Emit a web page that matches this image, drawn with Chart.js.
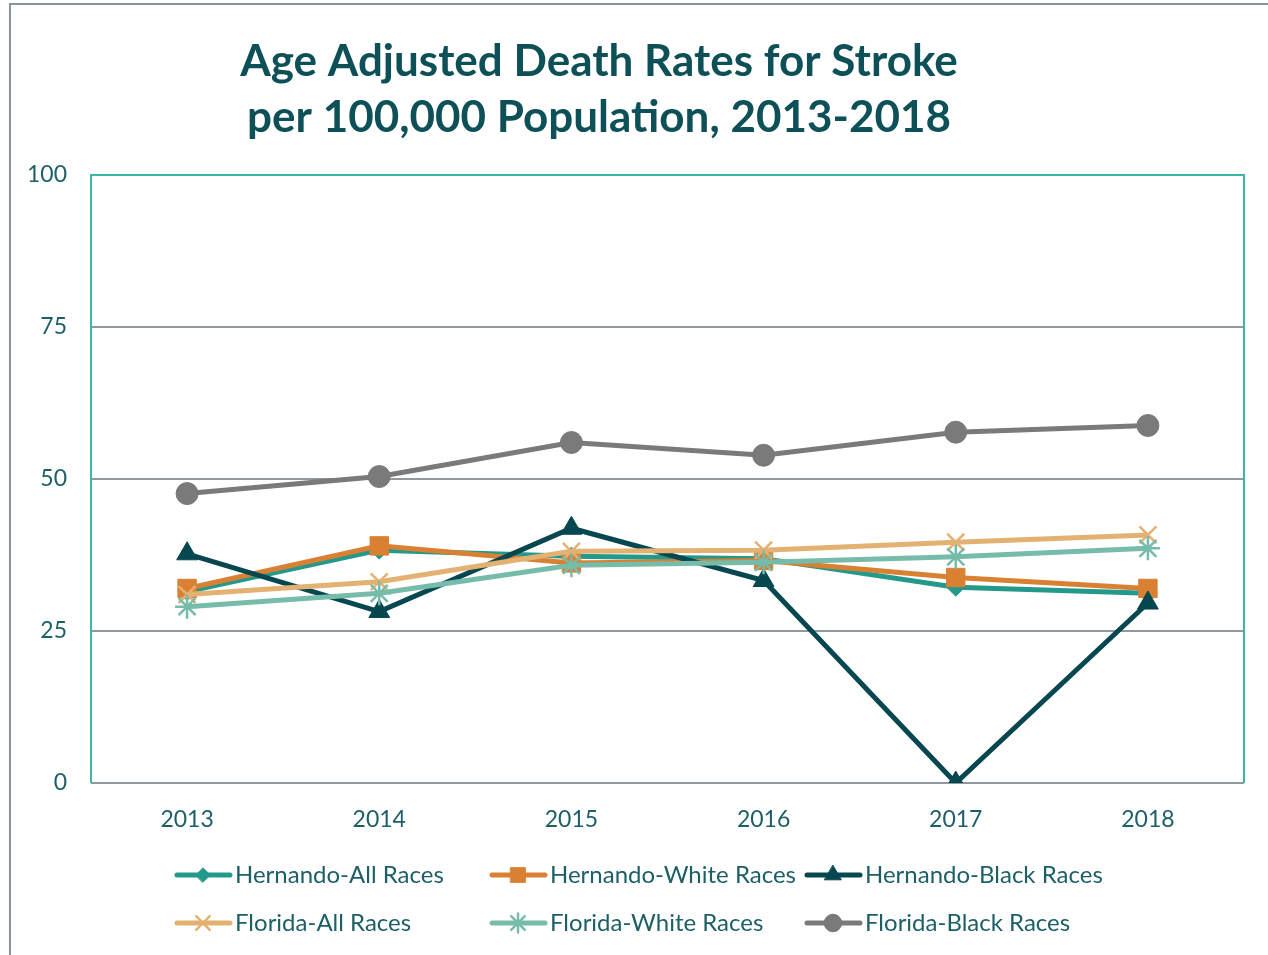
<!DOCTYPE html>
<html>
<head>
<meta charset="utf-8">
<title>Stroke death rates</title>
<script src="https://cdn.jsdelivr.net/npm/chart.js@4.4.1/dist/chart.umd.min.js"></script>
<style>
  body { margin: 0; background: #fff; }
  #frame { position: absolute; left: 9px; top: 3px; width: 1300px; height: 1000px;
           border-top: 2px solid #8a9599; border-left: 2px solid #8a9599; }
  #chart { position: absolute; left: 0; top: 0; }
</style>
</head>
<body>
<div id="frame"></div>
<canvas id="chart" width="1268" height="955"></canvas>
<script>
//データ####################################################

var years = ['2013', '2014', '2015', '2016', '2017', '2018'];
var seriesNames = ['Hernando-All Races', 'Hernando-White Races', 'Hernando-Black Races',
                   'Florida-All Races', 'Florida-White Races', 'Florida-Black Races'];
var hernandoAll   = [31.5, 38.3, 37.3, 36.9, 32.2, 31.2];
var hernandoWhite = [32.0, 39.0, 36.2, 36.6, 33.8, 32.0];
var hernandoBlack = [37.7, 28.2, 41.9, 33.3, 0, 29.6];
var floridaAll    = [31.0, 33.1, 38.1, 38.3, 39.6, 40.8];
var floridaWhite  = [29.0, 31.2, 35.8, 36.3, 37.2, 38.6];
var floridaBlack  = [47.6, 50.4, 56.0, 53.9, 57.7, 58.8];
var yTicks = [0, 25, 50, 75, 100];
var titleLines = ['Age Adjusted Death Rates for Stroke', 'per 100,000 Population, 2013-2018'];

var textColor = '#1d5f66';
var fontName = 'Lato';

//系列####################################################

function makeSet (i, values, color, style, radius, width) {
  return {
    label: seriesNames[i],
    data: values,
    borderColor: color,
    backgroundColor: color,
    borderWidth: 5,
    pointStyle: style,
    pointRadius: radius,
    pointHoverRadius: radius,
    pointBorderWidth: width,
    pointBorderColor: color,
    pointBackgroundColor: color,
    tension: 0,
    order: 6 - i
  };
}

var datasets = [
  makeSet(0, hernandoAll, '#23998b', 'rectRot', 9, 1),
  makeSet(1, hernandoWhite, '#d98032', 'rect', 13, 1),
  makeSet(2, hernandoBlack, '#07474f', 'triangle', 12, 1),
  makeSet(3, floridaAll, '#e3b272', 'crossRot', 12, 2.5),
  makeSet(4, floridaWhite, '#77bcaa', 'star', 12, 2.5),
  makeSet(5, floridaBlack, '#7a7a7a', 'circle', 11, 1)
];

//タイトル・枠線・凡例####################################################

var titleText = {
  id: 'titleText',
  afterDraw: function (chart) {
    var c = chart.ctx;
    c.save();
    c.fillStyle = '#0e5058';
    c.font = 'bold 44px ' + fontName;
    c.textAlign = 'center';
    c.textBaseline = 'middle';
    c.fillText(titleLines[0], 599, 62);
    c.fillText(titleLines[1], 599, 118);
    c.restore();
  }
};

var plotFrame = {
  id: 'plotFrame',
  beforeDatasetsDraw: function (chart) {
    var a = chart.chartArea;
    var c = chart.ctx;
    c.save();
    c.strokeStyle = '#3ab7a8';
    c.lineWidth = 2;
    c.beginPath();
    c.moveTo(a.left, a.bottom);
    c.lineTo(a.left, a.top);
    c.lineTo(a.right, a.top);
    c.lineTo(a.right, a.bottom);
    c.stroke();
    c.restore();
  }
};

var gridLegend = {
  id: 'gridLegend',
  afterDraw: function (chart) {
    var c = chart.ctx;
    var colX = [175, 490, 805];
    var rowY = [875, 923];
    c.save();
    chart.data.datasets.forEach(function (ds, i) {
      var x = colX[i % 3];
      var y = rowY[Math.floor(i / 3)];
      c.strokeStyle = ds.borderColor;
      c.lineWidth = 5;
      c.lineCap = 'round';
      c.beginPath();
      c.moveTo(x + 2, y);
      c.lineTo(x + 55, y);
      c.stroke();
      c.fillStyle = ds.pointBackgroundColor;
      c.strokeStyle = ds.pointBorderColor;
      c.lineWidth = ds.pointBorderWidth;
      Chart.helpers.drawPoint(c, {pointStyle: ds.pointStyle, radius: ds.pointRadius * 0.8, rotation: 0, borderWidth: ds.pointBorderWidth}, x + 28, y);
      c.fillStyle = textColor;
      c.font = '24px ' + fontName;
      c.textAlign = 'left';
      c.textBaseline = 'middle';
      c.fillText(ds.label, x + 60, y);
    });
    c.restore();
  }
};

//グラフ####################################################

var ctx = document.getElementById('chart').getContext('2d');
var myChart = new Chart(ctx, {
  type: 'line',
  data: { labels: years, datasets: datasets },
  plugins: [titleText, plotFrame, gridLegend],
  options: {
    responsive: false,
    animation: false,
    layout: { padding: { left: 10, right: 24, top: 175, bottom: 122 } },
    plugins: {
      legend: { display: false },
      tooltip: { enabled: false },
      title: { display: false }
    },
    scales: {
      x: {
        offset: true,
        grid: { display: false },
        border: { display: false },
        ticks: { color: textColor, font: { family: fontName, size: 23 }, padding: 15 },
        afterFit: function (s) { s.height = 50; }
      },
      y: {
        min: 0,
        max: 100,
        afterBuildTicks: function (s) { s.ticks = yTicks.map(function (v) { return {value: v}; }); },
        grid: { color: '#8e9a9e', lineWidth: 2, drawTicks: false },
        border: { display: false },
        ticks: { color: textColor, font: { family: fontName, size: 23 }, padding: 24 },
        afterFit: function (s) { s.width = 81; }
      }
    }
  }
});
</script>
</body>
</html>
